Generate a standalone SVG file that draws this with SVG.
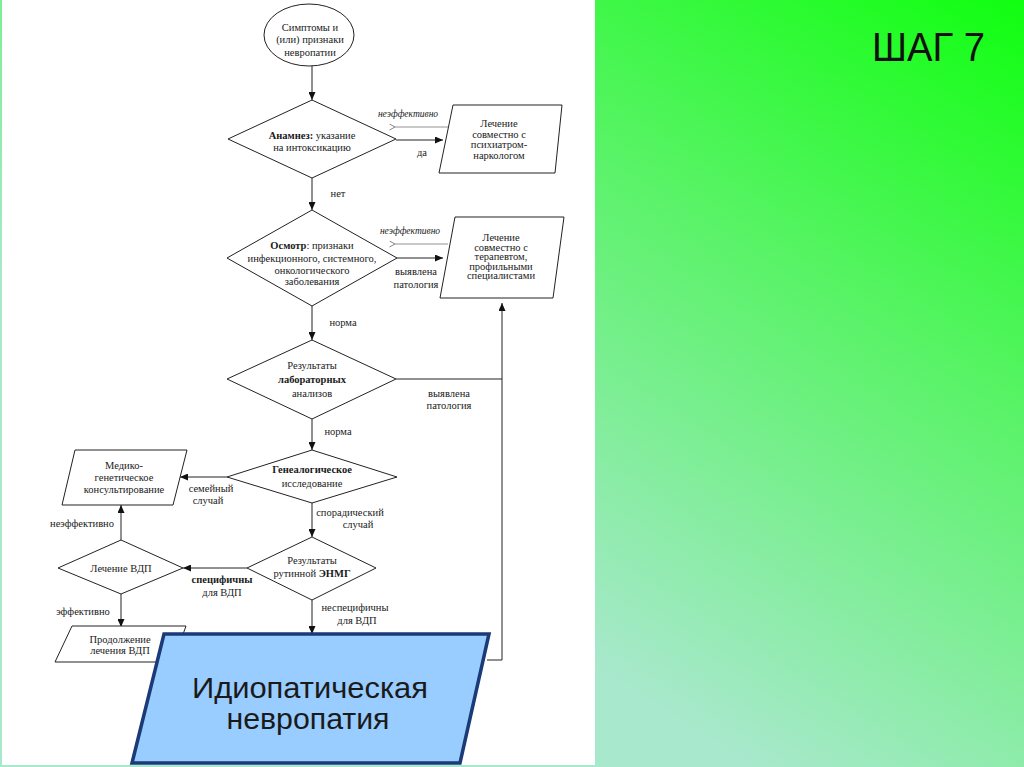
<svg xmlns="http://www.w3.org/2000/svg" width="1024" height="767" viewBox="0 0 1024 767">
<defs>
<linearGradient id="bg" gradientUnits="userSpaceOnUse" x1="1024" y1="0" x2="599" y2="668">
<stop offset="0" stop-color="#10ff10"/>
<stop offset="0.45" stop-color="#5af368"/>
<stop offset="1" stop-color="#a8e8cc"/>
</linearGradient>
<marker id="ah" markerUnits="userSpaceOnUse" markerWidth="8" markerHeight="7" refX="8" refY="3.5" orient="auto">
<path d="M0,0 L8,3.5 L0,7 z" fill="#111"/>
</marker>
<marker id="ao" markerUnits="userSpaceOnUse" markerWidth="7" markerHeight="7" refX="0.5" refY="3.5" orient="auto">
<path d="M6,0.5 L0.5,3.5 L6,6.5" fill="none" stroke="#666" stroke-width="0.8"/>
</marker>
</defs>
<style>
.shape{fill:#fff;stroke:#222;stroke-width:1}
.t{font-family:"Liberation Serif","Times New Roman",serif;font-size:10.5px;fill:#1a1a1a;text-anchor:middle}
.b{font-weight:bold}
.it{font-style:italic;font-size:9.5px}
.ln{fill:none;stroke:#222;stroke-width:1}
.arr{fill:none;stroke:#222;stroke-width:1;marker-end:url(#ah)}
.back{fill:none;stroke:#777;stroke-width:0.8;marker-end:url(#ao)}
.big{fill:#99ccff;stroke:#1a3a78;stroke-width:3.5;stroke-linejoin:miter}
.bt{font-family:"Liberation Sans",Arial,sans-serif;font-size:30px;fill:#1a1a1a;text-anchor:middle}
</style>
<rect x="0" y="0" width="1024" height="767" fill="url(#bg)"/>
<rect x="2" y="0" width="593" height="765" fill="#ffffff"/>
<text x="872" y="61" font-family="'Liberation Sans',Arial,sans-serif" font-size="40" fill="#111" textLength="113" lengthAdjust="spacingAndGlyphs">ШАГ 7</text>

<g id="connectors">
<line class="arr" x1="312" y1="66" x2="312" y2="100"/>
<line class="arr" x1="396" y1="140" x2="443" y2="140"/>
<line class="back" x1="448" y1="127" x2="395" y2="127"/>
<text class="t" x="422" y="156">да</text>
<text class="t it" x="408" y="117">неэффективно</text>
<line class="arr" x1="312" y1="178" x2="312" y2="210"/>
<text class="t" x="338" y="197">нет</text>
<line class="arr" x1="397" y1="258" x2="443" y2="258"/>
<line class="back" x1="448" y1="244" x2="395" y2="244"/>
<text class="t it" x="410" y="234">неэффективно</text>
<text class="t" x="416" y="275">выявлена</text>
<text class="t" x="416" y="288">патология</text>
<line class="arr" x1="312" y1="306" x2="312" y2="340"/>
<text class="t" x="343" y="326">норма</text>
<polyline class="ln" points="396,379 502,379"/>
<polyline class="arr" points="487,660 502,660 502,303"/>
<text class="t" x="449" y="397">выявлена</text>
<text class="t" x="449" y="409">патология</text>
<line class="arr" x1="312" y1="419" x2="312" y2="450"/>
<text class="t" x="338" y="435">норма</text>
<line class="arr" x1="227" y1="477" x2="180" y2="477"/>
<text class="t" x="211" y="492">семейный</text>
<text class="t" x="208" y="504">случай</text>
<line class="arr" x1="312" y1="503" x2="312" y2="537"/>
<text class="t" x="350" y="516">спорадический</text>
<text class="t" x="358" y="528">случай</text>
<line class="arr" x1="121" y1="540" x2="121" y2="505"/>
<text class="t" x="82" y="527">неэффективно</text>
<line class="arr" x1="247" y1="568" x2="183" y2="568"/>
<text class="t b" x="222" y="583">специфичны</text>
<text class="t" x="222" y="596">для ВДП</text>
<line class="arr" x1="121" y1="594" x2="121" y2="627"/>
<text class="t" x="83" y="615">эффективно</text>
<line class="arr" x1="312" y1="600" x2="312" y2="634"/>
<text class="t" x="355" y="611">неспецифичны</text>
<text class="t" x="357" y="624">для ВДП</text>
</g>

<g id="n-start">
<ellipse class="shape" cx="309" cy="35" rx="45" ry="31"/>
<text class="t" x="310" y="31">Симптомы и</text>
<text class="t" x="310" y="43">(или) признаки</text>
<text class="t" x="310" y="56">невропатии</text>
</g>

<g id="n-anamnez">
<polygon class="shape" points="312,100 396,139 312,178 228,139"/>
<text class="t" x="312" y="139"><tspan class="b">Анамнез:</tspan> указание</text>
<text class="t" x="312" y="151">на интоксикацию</text>
</g>

<g id="n-psych">
<polygon class="shape" points="453,105 562,105 555,173 439,173"/>
<text class="t" x="499" y="127">Лечение</text>
<text class="t" x="499" y="138">совместно с</text>
<text class="t" x="499" y="148">психиатром-</text>
<text class="t" x="499" y="159">наркологом</text>
</g>

<g id="n-osmotr">
<polygon class="shape" points="312,210 397,258 312,306 227,258"/>
<text class="t" x="312" y="249"><tspan class="b">Осмотр</tspan>: признаки</text>
<text class="t" x="312" y="262">инфекционного, системного,</text>
<text class="t" x="312" y="274">онкологического</text>
<text class="t" x="312" y="285">заболевания</text>
</g>

<g id="n-therap">
<polygon class="shape" points="455,217 564,217 553,298 440,298"/>
<text class="t" x="501" y="241">Лечение</text>
<text class="t" x="501" y="251">совместно с</text>
<text class="t" x="501" y="260">терапевтом,</text>
<text class="t" x="501" y="270">профильными</text>
<text class="t" x="501" y="279">специалистами</text>
</g>

<g id="n-lab">
<polygon class="shape" points="312,340 396,379 312,419 227,379"/>
<text class="t" x="312" y="369">Результаты</text>
<text class="t b" x="312" y="383">лабораторных</text>
<text class="t" x="312" y="397">анализов</text>
</g>

<g id="n-geneal">
<polygon class="shape" points="312,450 397,477 312,503 227,477"/>
<text class="t b" x="312" y="473">Генеалогическое</text>
<text class="t" x="312" y="487">исследование</text>
</g>

<g id="n-medgen">
<polygon class="shape" points="75,450 187,450 173,505 62,505"/>
<text class="t" x="124" y="469">Медико-</text>
<text class="t" x="124" y="481">генетическое</text>
<text class="t" x="124" y="493">консультирование</text>
</g>

<g id="n-enmg">
<polygon class="shape" points="312,537 376,568 312,600 247,568"/>
<text class="t" x="312" y="564">Результаты</text>
<text class="t" x="312" y="577">рутинной <tspan class="b">ЭНМГ</tspan></text>
</g>

<g id="n-vdp">
<polygon class="shape" points="121,540 183,568 121,594 58,568"/>
<text class="t" x="121" y="572">Лечение ВДП</text>
</g>

<g id="n-cont">
<polygon class="shape" points="72,626 186,626 173,662 55,662"/>
<text class="t" x="120" y="643">Продолжение</text>
<text class="t" x="120" y="654">лечения ВДП</text>
</g>

<g id="n-idio">
<polygon class="big" points="164,634 489,634 460,763 132,763"/>
<text class="bt" x="310" y="698" textLength="236" lengthAdjust="spacingAndGlyphs">Идиопатическая</text>
<text class="bt" x="308" y="729" textLength="163" lengthAdjust="spacingAndGlyphs">невропатия</text>
</g>
</svg>
